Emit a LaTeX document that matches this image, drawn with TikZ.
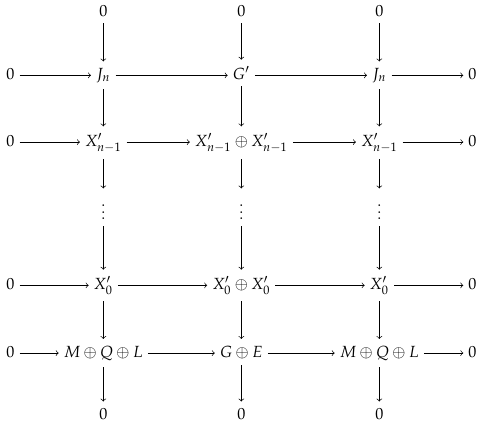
\documentclass[tikz,border=0pt]{standalone}
\usepackage{mathpazo}
\usetikzlibrary{positioning}

\newcommand\flechah[2]{\draw [flecha] ([yshift=2.5pt]#1.base east) -- ([yshift=2.5pt]#2.base west);}

\begin{document}
\begin{tikzpicture}[x=0.62pt,y=-0.62pt,
        objeto/.style={inner xsep=2.5pt,inner ysep=3.5pt,anchor=base},
        flecha/.style={->,shorten >=0.5pt,shorten <=0.5pt}]
        \useasboundingbox (0,0) rectangle (482,426);
        \node [objeto] (ct1) at (103.3,16.3) {$0$};
        \node [objeto] (ct2) at (241.3,16.3) {$0$};
        \node [objeto] (ct3) at (379.3,16.3) {$0$};
        \node [objeto] (ci1) at (10.5,79.4) {$0$};
        \node [objeto] (j1) at (103.3,79.4) {$J_n$};
        \node [objeto] (g) at (241.3,79.4) {$G'$};
        \node [objeto] (j2) at (379.3,79.4) {$J_n$};
        \node [objeto] (cd1) at (472.5,79.4) {$0$};
        \node [objeto] (ci2) at (10.5,146.1) {$0$};
        \node [objeto] (xa1) at (103.3,146.1) {$X'_{n-1}$};
        \node [objeto] (xa2) at (241.3,146.1) {$X'_{n-1}\oplus X'_{n-1}$};
        \node [objeto] (xa3) at (379.3,146.1) {$X'_{n-1}$};
        \node [objeto] (cd2) at (472.5,146.1) {$0$};
        \node [objeto] (p1) at (103.3,219.5) {$\vdots$};
        \node [objeto] (p2) at (241.3,219.5) {$\vdots$};
        \node [objeto] (p3) at (379.3,219.5) {$\vdots$};
        \node [objeto] (ci3) at (10.5,289.4) {$0$};
        \node [objeto] (xb1) at (103.3,289.4) {$X'_0$};
        \node [objeto] (xb2) at (241.3,289.4) {$X'_0\oplus X'_0$};
        \node [objeto] (xb3) at (379.3,289.4) {$X'_0$};
        \node [objeto] (cd3) at (472.5,289.4) {$0$};
        \node [objeto] (ci4) at (10.5,357.1) {$0$};
        \node [objeto] (m1) at (103.3,357.1) {$M\oplus Q\oplus L$};
        \node [objeto] (ge) at (241.3,357.1) {$G\oplus E$};
        \node [objeto] (m2) at (379.3,357.1) {$M\oplus Q\oplus L$};
        \node [objeto] (cd4) at (472.5,357.1) {$0$};
        \node [objeto] (cb1) at (103.3,419.3) {$0$};
        \node [objeto] (cb2) at (241.3,419.3) {$0$};
        \node [objeto] (cb3) at (379.3,419.3) {$0$};
        \flechah{ci1}{j1}
        \flechah{j1}{g}
        \flechah{g}{j2}
        \flechah{j2}{cd1}
        \flechah{ci2}{xa1}
        \flechah{xa1}{xa2}
        \flechah{xa2}{xa3}
        \flechah{xa3}{cd2}
        \flechah{ci3}{xb1}
        \flechah{xb1}{xb2}
        \flechah{xb2}{xb3}
        \flechah{xb3}{cd3}
        \flechah{ci4}{m1}
        \flechah{m1}{ge}
        \flechah{ge}{m2}
        \flechah{m2}{cd4}
        \draw [flecha] (ct1) -- (j1);
        \draw [flecha] (j1) -- (xa1);
        \draw [flecha] (xa1) -- (p1);
        \draw [flecha] (p1) -- (xb1);
        \draw [flecha] (xb1) -- (m1);
        \draw [flecha] (m1) -- (cb1);
        \draw [flecha] (ct2) -- (g);
        \draw [flecha] (g) -- (xa2);
        \draw [flecha] (xa2) -- (p2);
        \draw [flecha] (p2) -- (xb2);
        \draw [flecha] (xb2) -- (ge);
        \draw [flecha] (ge) -- (cb2);
        \draw [flecha] (ct3) -- (j2);
        \draw [flecha] (j2) -- (xa3);
        \draw [flecha] (xa3) -- (p3);
        \draw [flecha] (p3) -- (xb3);
        \draw [flecha] (xb3) -- (m2);
        \draw [flecha] (m2) -- (cb3);
\end{tikzpicture}
\end{document}
